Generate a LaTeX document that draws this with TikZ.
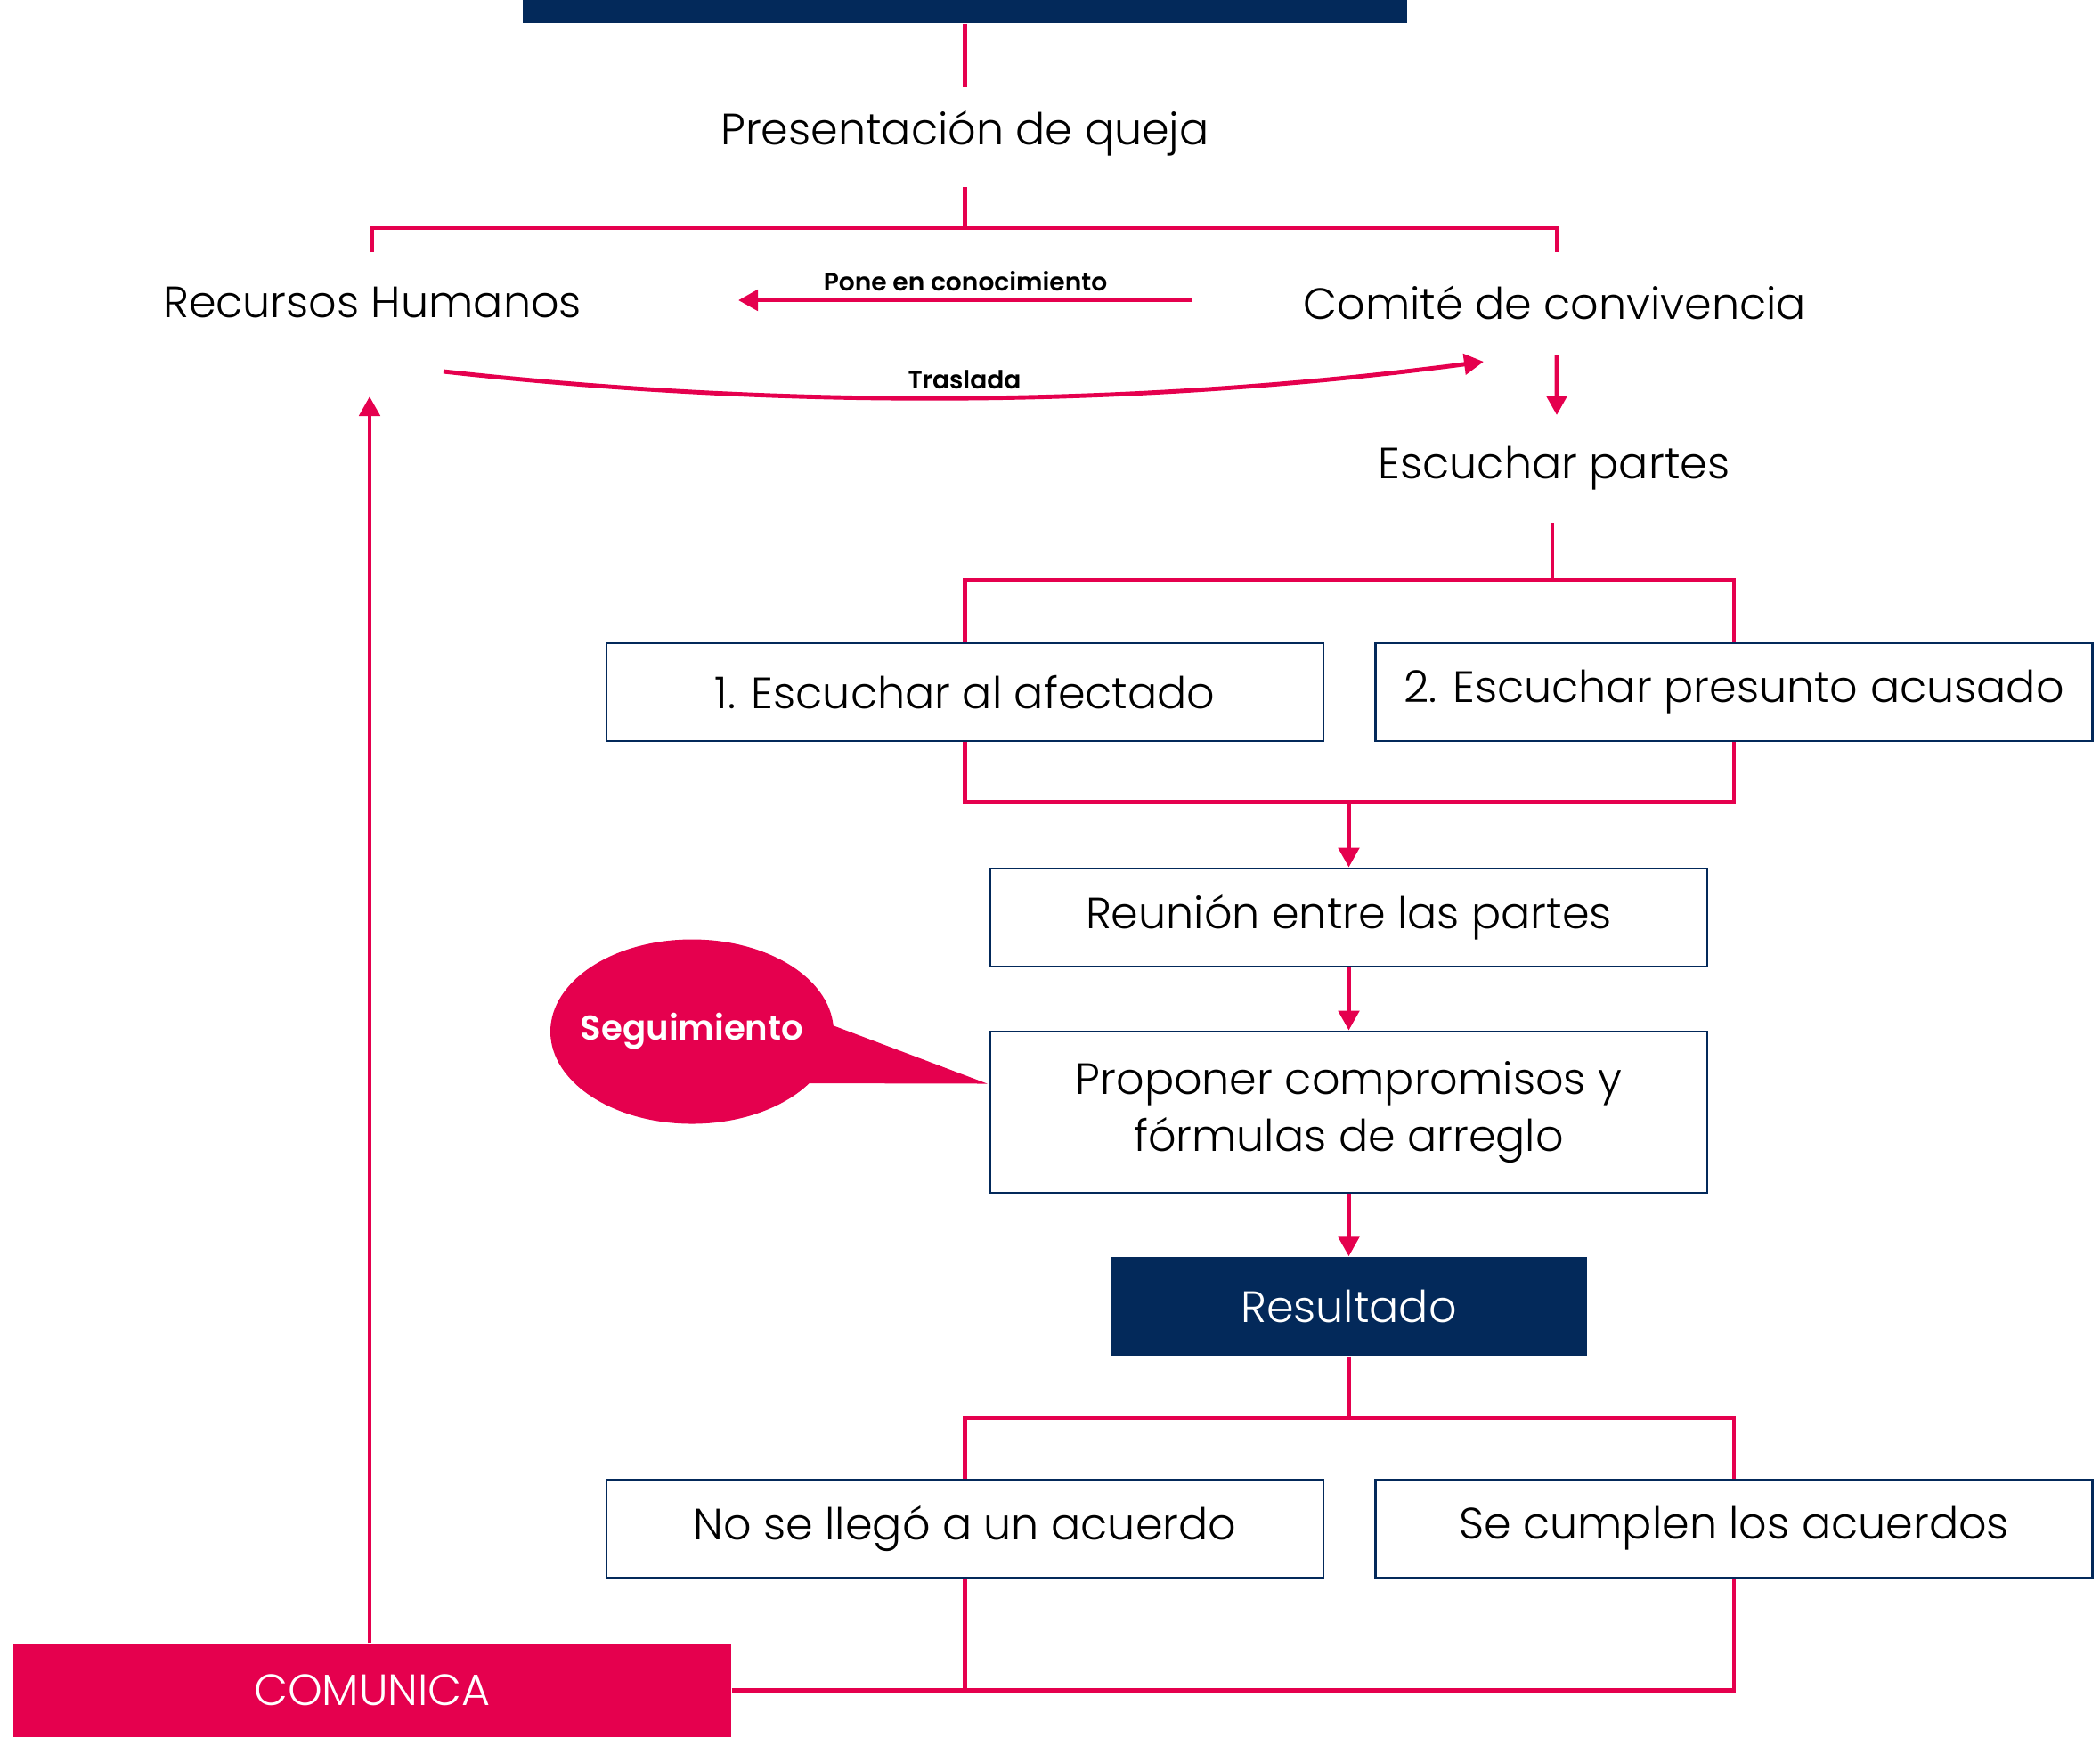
\documentclass[tikz,border=0pt]{standalone}
\usepackage{fontspec}
\setmainfont{Poppins Light}[BoldFont={Poppins SemiBold}]
\usetikzlibrary{arrows.meta, shapes.geometric, positioning, calc}
\definecolor{navy}{HTML}{03295A}
\definecolor{rosa}{HTML}{E5004E}
\tikzset{
    my-text/.style={
        inner sep=0pt, font=\fontsize{14}{18}\selectfont
    },
    my-small/.style={
        inner sep=0pt, font=\bfseries\fontsize{8}{10}\selectfont
    },
    my-box/.style={
        draw=navy, line width=0.8pt, fill=white, inner sep=0pt, align=center,
        minimum width=8.05cm, minimum height=1.10cm, font=\fontsize{14}{18}\selectfont
    },
    my-navy-box/.style={
        fill=navy, text=white, inner sep=0pt, minimum width=5.34cm, minimum height=1.11cm,
        font=\fontsize{14}{18}\selectfont
    },
    my-wire/.style={
        draw=rosa, line width=1.4pt
    },
    my-arrow/.style={
        my-wire, -{Triangle[length=0.22cm, width=0.23cm]}
    },
}

\begin{document}
\begin{tikzpicture}

        \useasboundingbox (0,0) rectangle (23.58,-19.50);

        % TOP -----------------------------------------------------------------------------------------

        % BAR AND COMPLAINT
        \node[fill=navy, minimum width=9.93cm, minimum height=0.26cm, inner sep=0pt] (TOP) at (10.835, -0.13) {};
        \node[my-text] (QUEJA)     at ($(TOP) + (0, -1.37)$)     {Presentación de queja};
        \coordinate[]  (QUEJAIN)   at ($(QUEJA) + (0, 0.52)$)    {};
        \coordinate[]  (QUEJAOUT)  at ($(QUEJA) + (0, -0.60)$)   {};
        \coordinate[]  (QUEJAJOIN) at ($(QUEJA) + (0, -1.06)$)   {};
        \draw[my-wire] (TOP.south -| QUEJAIN) -- (QUEJAIN);
        \draw[my-wire] (QUEJAOUT) -- (QUEJAJOIN);

        % RRHH AND COMMITTEE
        \node[my-text] (RRHH)     at (4.18, -3.40)              {Recursos Humanos};
        \node[my-text] (COMITE)   at ($(RRHH) + (13.28, 0)$)    {Comité de convivencia};
        \coordinate[]  (RRHHIN)   at ($(RRHH) + (0, 0.57)$)     {};
        \coordinate[]  (RRHHOUT)  at ($(RRHH) + (-0.03, -1.05)$) {};
        \coordinate[]  (COMITEIN) at ($(COMITE) + (0.02, 0.57)$) {};
        \draw[my-wire] (RRHHIN) |- (QUEJAJOIN) -| (COMITEIN);

        % PONE EN CONOCIMIENTO
        \coordinate[] (PONEFROM) at ($(COMITE) + (-4.07, 0.03)$) {};
        \coordinate[] (PONETO)   at ($(RRHH) + (4.11, 0.03)$)    {};
        \draw[my-arrow] (PONEFROM) -- (PONETO);
        \node[my-small] (PONE) at ($(PONEFROM)!0.5!(PONETO) + (0, 0.21)$) {Pone en conocimiento};

        % TRASLADA
        \coordinate[] (TRASFROM) at ($(RRHH) + (0.80, -0.77)$)    {};
        \coordinate[] (TRASTO)   at ($(COMITE) + (-0.80, -0.66)$) {};
        \draw[my-arrow] (TRASFROM) .. controls ($(TRASFROM) + (3.9, -0.43)$) and ($(TRASTO) + (-3.9, -0.51)$) .. (TRASTO);
        \node[my-small] (TRASLADA) at (10.83, -4.26) {Traslada};

        % LISTENING -----------------------------------------------------------------------------------

        \node[my-text] (ESCUCHAR)    at ($(COMITE) + (-0.01, -1.86)$)   {Escuchar partes};
        \coordinate[]  (COMITEOUT)   at ($(COMITE) + (0.02, -0.59)$)    {};
        \coordinate[]  (ESCUCHARIN)  at ($(ESCUCHAR) + (0.03, 0.60)$)   {};
        \coordinate[]  (ESCUCHAROUT) at ($(ESCUCHAR) + (-0.02, -0.61)$) {};
        \coordinate[]  (ESCJOIN)     at ($(ESCUCHAR) + (-0.02, -1.25)$) {};
        \draw[my-arrow] (COMITEOUT) -- (ESCUCHARIN);
        \draw[my-wire]  (ESCUCHAROUT) -- (ESCJOIN);

        % BOTH PARTIES
        \node[my-box] (BOX1) at (10.835, -7.77)         {1. Escuchar al afectado};
        \node[my-box] (BOX2) at ($(BOX1) + (8.635, 0)$) {2. Escuchar presunto acusado};
        \draw[my-wire] (BOX1.north) |- (ESCJOIN) -| (BOX2.north);

        % MEETING AND PROPOSAL ------------------------------------------------------------------------

        \node[my-box] (REUNION)  at (15.145, -10.30)                {Reunión entre las partes};
        \node[my-box, minimum height=1.81cm] (PROPONER) at ($(REUNION) + (0, -2.185)$) {Proponer compromisos y\\fórmulas de arreglo};
        \coordinate[] (PARTJOIN) at ($(REUNION.north) + (0, 0.73)$) {};
        \draw[my-wire]  (BOX1.south) |- (PARTJOIN) -| (BOX2.south);
        \draw[my-arrow] (PARTJOIN) -- (REUNION.north);
        \draw[my-arrow] (REUNION.south) -- (PROPONER.north);

        % SEGUIMIENTO CALLOUT
        \node[ellipse, fill=rosa, minimum width=3.18cm, minimum height=2.07cm, inner sep=0pt] (SEGUIM) at (7.77, -11.58) {};
        \coordinate[] (SEGTAIL1) at ($(SEGUIM) + (1.50, 0.10)$)     {};
        \coordinate[] (SEGTAIL2) at ($(SEGUIM) + (1.25, -0.58)$)    {};
        \coordinate[] (SEGTIP)   at ($(PROPONER.west) + (-0.02, 0.32)$) {};
        \fill[rosa] (SEGTAIL1) -- (SEGTIP) -- (SEGTAIL2) -- cycle;
        \node[text=white, inner sep=0pt, font=\bfseries\fontsize{11}{13}\selectfont] at (SEGUIM) {Seguimiento};

        % RESULT --------------------------------------------------------------------------------------

        \node[my-navy-box] (RESULTADO) at ($(PROPONER) + (0, -2.18)$) {Resultado};
        \draw[my-arrow] (PROPONER.south) -- (RESULTADO.north);
        \coordinate[] (RESJOIN) at ($(RESULTADO.south) + (0, -0.69)$) {};
        \draw[my-wire] (RESULTADO.south) -- (RESJOIN);

        \node[my-box] (NOACUERDO) at (10.835, -17.16)               {No se llegó a un acuerdo};
        \node[my-box] (SECUMPLEN) at ($(NOACUERDO) + (8.635, 0)$)   {Se cumplen los acuerdos};
        \draw[my-wire] (NOACUERDO.north) |- (RESJOIN) -| (SECUMPLEN.north);

        % COMUNICA AND FEEDBACK
        \node[fill=rosa, text=white, inner sep=0pt, minimum width=8.06cm, minimum height=1.05cm,
              font=\fontsize{14}{18}\selectfont] (COMUNICA) at (4.18, -18.975) {COMUNICA};
        \draw[my-wire]  (COMUNICA.east) -| (SECUMPLEN.south);
        \draw[my-wire]  (NOACUERDO.south) -- (NOACUERDO.south |- COMUNICA.east);
        \draw[my-arrow] (COMUNICA.north -| RRHHOUT) -- (RRHHOUT);

\end{tikzpicture}
\end{document}
